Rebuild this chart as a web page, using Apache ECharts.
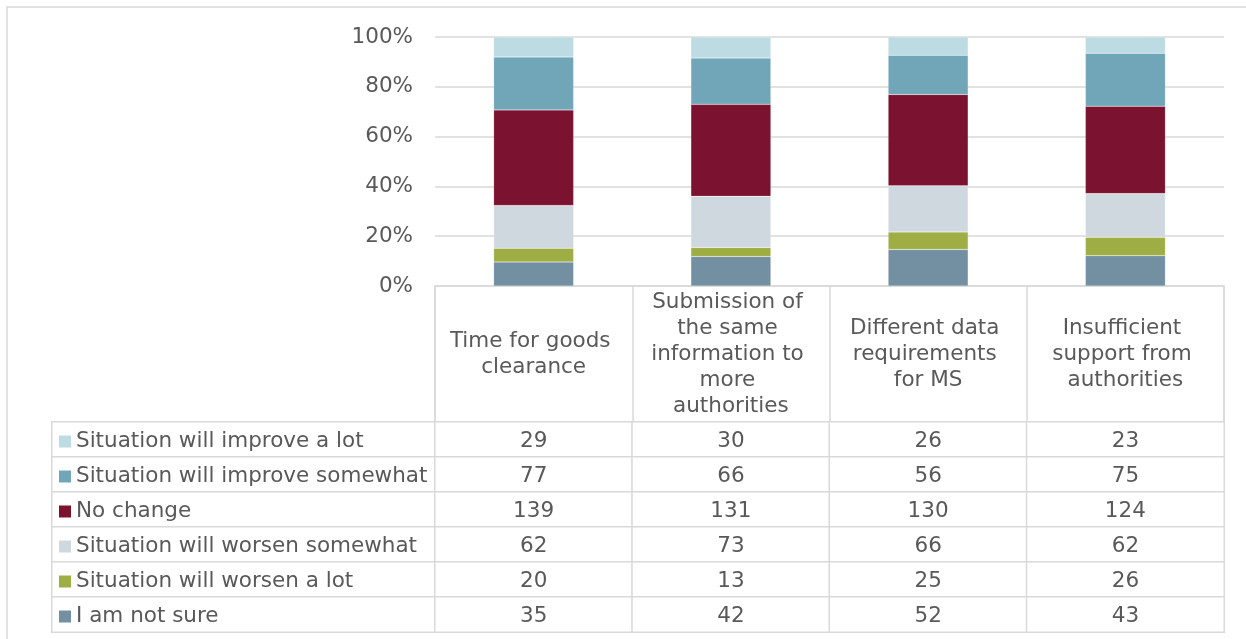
<!DOCTYPE html>
<html>
<head>
<meta charset="utf-8">
<script src="https://cdn.jsdelivr.net/npm/echarts@6/dist/echarts.min.js"></script>
<style>
html,body{margin:0;padding:0;background:#fff;}
#chart{width:1246px;height:639px;}
</style>
</head>
<body>
<div id="chart"></div>
<script>
// ---- data ----
var categories = ['Time for goods clearance', 'Submission of the same information to more authorities', 'Different data requirements for MS', 'Insufficient support from authorities'];
var seriesNames = ['Situation will improve a lot', 'Situation will improve somewhat', 'No change', 'Situation will worsen somewhat', 'Situation will worsen a lot', 'I am not sure'];
var improveLot = [29, 30, 26, 23];
var improveSome = [77, 66, 56, 75];
var noChange = [139, 131, 130, 124];
var worsenSome = [62, 73, 66, 62];
var worsenLot = [20, 13, 25, 26];
var notSure = [35, 42, 52, 43];
var yTicks = [0, 20, 40, 60, 80, 100];

// ---- styles ----
var colors = ['#bddbe3', '#71a6b8', '#7b1230', '#d0d8df', '#9fae44', '#738fa2'];
var txt = '#595959';
var line = '#d9d9d9';
var font = 'DejaVu Sans, Verdana, sans-serif';
var fs = 21.5;

var rows = [improveLot, improveSome, noChange, worsenSome, worsenLot, notSure];
var totals = categories.map(function (c, i) {
  return rows.reduce(function (s, r) { return s + r[i]; }, 0);
});

// bars stacked bottom-up: not sure first
var barSeries = [];
for (var k = rows.length - 1; k >= 0; k--) {
  (function (k) {
    barSeries.push({
      name: seriesNames[k],
      type: 'bar',
      stack: 'total',
      xAxisIndex: 0, yAxisIndex: 0,
      barWidth: 80,
      itemStyle: { color: colors[k], borderColor: 'rgba(255,255,255,0.35)', borderWidth: 0.5 },
      data: rows[k].map(function (v, i) { return v / totals[i] * 100; })
    });
  })(k);
}

// table cells
var valueCells = [];
rows.forEach(function (r, ri) {
  r.forEach(function (v, ci) { valueCells.push([ci, ri, v]); });
});
var keyCells = seriesNames.map(function (n, ri) { return [0, ri, 1]; });
var rich = { t: { fontSize: fs, color: txt, fontFamily: font, padding: [0, 0, 0, 5] } };
colors.forEach(function (c, i) {
  rich['k' + i] = { width: 12, height: 12, backgroundColor: c };
});

var chart = echarts.init(document.getElementById('chart'), null, { renderer: 'canvas' });
chart.setOption({
  animation: false,
  backgroundColor: '#fff',
  textStyle: { fontFamily: font },
  graphic: [{
    type: 'rect', silent: true, z: -10,
    shape: { x: 7, y: 7, width: 1260, height: 700 },
    style: { fill: 'none', stroke: line, lineWidth: 1.5 }
  }],
  grid: [
    { left: 435, top: 37, width: 789, height: 249 },
    { left: 435, top: 286, width: 789, height: 136, show: true, borderColor: line, borderWidth: 1.5 },
    { left: 52, top: 422, width: 383, height: 210 },
    { left: 435, top: 422, width: 789, height: 210 }
  ],
  xAxis: [
    { type: 'category', gridIndex: 0, data: categories, axisLine: { show: false }, axisTick: { show: false }, axisLabel: { show: false } },
    { type: 'category', gridIndex: 1, data: categories, axisLine: { show: false }, axisTick: { show: false },
      splitLine: { show: true, lineStyle: { color: line, width: 1.5 } },
      axisLabel: { show: true, interval: 0, margin: -68, verticalAlign: 'middle', fontSize: fs, color: txt, fontFamily: font,
        lineHeight: 26, width: 170, overflow: 'break', align: 'center', padding: [4, 0, 0, 0] } },
    { type: 'category', gridIndex: 2, data: ['key'], show: false },
    { type: 'category', gridIndex: 3, data: categories, show: false }
  ],
  yAxis: [
    { type: 'value', gridIndex: 0, min: 0, max: 100, interval: 20,
      axisLine: { show: false }, axisTick: { show: false },
      splitLine: { show: true, lineStyle: { color: line, width: 1.5 } },
      axisLabel: { formatter: function (v) { return v + '%'; }, margin: 22, fontSize: fs, color: txt, fontFamily: font,
        customValues: yTicks, padding: [4, 0, 0, 0] } },
    { type: 'value', gridIndex: 1, show: false },
    { type: 'category', gridIndex: 2, data: seriesNames, inverse: true, show: false },
    { type: 'category', gridIndex: 3, data: seriesNames, inverse: true, show: false }
  ],
  series: barSeries.concat([
    {
      type: 'heatmap', xAxisIndex: 2, yAxisIndex: 2, data: keyCells, silent: true,
      itemStyle: { color: '#fff', borderColor: line, borderWidth: 1.5 },
      label: {
        show: true, position: 'insideLeft', distance: 8, padding: [4, 0, 0, 0],
        formatter: function (p) { return '{k' + p.dataIndex + '|}{t|' + seriesNames[p.dataIndex] + '}'; },
        rich: rich
      },
      emphasis: { disabled: true }
    },
    {
      type: 'heatmap', xAxisIndex: 3, yAxisIndex: 3, data: valueCells, silent: true,
      itemStyle: { color: '#fff', borderColor: line, borderWidth: 1.5 },
      label: {
        show: true, fontSize: fs, color: txt, fontFamily: font, offset: [0, 2],
        formatter: function (p) { return String(p.value[2]); }
      },
      emphasis: { disabled: true }
    }
  ])
});
</script>
</body>
</html>
